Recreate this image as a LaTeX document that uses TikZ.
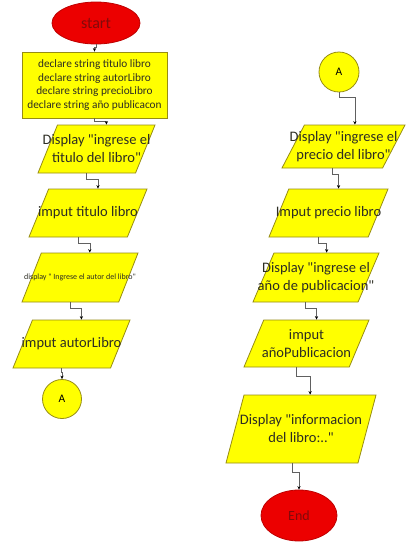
\documentclass[tikz,border=0pt]{standalone}
\usepackage{fontspec}
\setmainfont{Carlito}[Ligatures=TeXOff]
\usetikzlibrary{arrows.meta,shapes.geometric}
\definecolor{boxfill}{RGB}{255,255,0}
\definecolor{boxline}{RGB}{150,140,20}
\definecolor{termfill}{RGB}{236,0,0}
\definecolor{termline}{RGB}{190,0,0}
\definecolor{termtext}{RGB}{130,10,10}
\definecolor{flowtext}{RGB}{45,45,35}
\tikzset{
  term/.style={ellipse, draw=termline, fill=termfill, line width=0.8pt, text=termtext, inner sep=0pt},
  procbox/.style={rectangle, draw=boxline, fill=boxfill, line width=0.8pt, inner sep=0pt, align=center, text=flowtext},
  io/.style={trapezium, trapezium left angle=#1, trapezium right angle=\the\numexpr180-#1\relax,
    trapezium stretches=true, draw=boxline, fill=boxfill, line width=0.8pt, inner sep=1pt},
  io/.default=76,
  conn/.style={circle, draw=boxline, fill=boxfill, line width=0.8pt, inner sep=0pt, text=black,
    font=\fontsize{11.5}{13}\selectfont},
  txt/.style={align=center, text=flowtext, font=\fontsize{14.5}{18}\selectfont},
  flow/.style={-{Stealth[length=3.5pt,width=3.2pt,color=black]}, line width=0.6pt, gray!75!black},
}

\begin{document}
\begin{tikzpicture}[x=1pt, y=-1pt]
  \useasboundingbox (0,0) rectangle (407,542);
  % left column
  \node[term, minimum width=88pt, minimum height=42pt, font=\fontsize{16}{18}\selectfont] (start) at (96,23) {start};
  \node[procbox, minimum width=145pt, minimum height=66pt, font=\fontsize{11.3}{13.7}\selectfont] (decl) at (94.5,85)
    {declare string titulo libro\\declare string autorLibro\\declare string precioLibro\\declare string año publicacon};
  \node[io, minimum width=117pt, minimum height=48pt] (disp1) at (96.5,149) {};
  \node[txt] (disp1-t) at (disp1) {Display "ingrese el\\titulo del libro"};
  \node[io, minimum width=118pt, minimum height=48pt] (imp1) at (88,213) {};
  \node[txt] (imp1-t) at (imp1) {imput titulo libro};
  \node[io, minimum width=116pt, minimum height=49pt] (disp2) at (80,277.5) {};
  \node[txt, font=\fontsize{8}{10}\selectfont] (disp2-t) at (disp2) {display " Ingrese el autor del libro"};
  \node[io, minimum width=117pt, minimum height=48pt] (imp2) at (71.5,344) {};
  \node[txt] (imp2-t) at (imp2) {imput autorLibro};
  \node[conn, minimum size=39pt] (A1) at (62,399) {A};

  % right column
  \node[conn, minimum size=40pt] (A2) at (339,72) {A};
  \node[io=74, minimum width=123pt, minimum height=43pt] (dispP) at (343.5,146.5) {};
  \node[txt] (dispP-t) at (dispP) {Display "ingrese el\\precio del libro"};
  \node[io, minimum width=119pt, minimum height=48pt] (impP) at (328.5,213) {};
  \node[txt] (impP-t) at (impP) {Imput precio libro};
  \node[io, minimum width=126pt, minimum height=49pt] (dispA) at (316,277.5) {};
  \node[txt] (dispA-t) at (dispA) {Display "ingrese el\\año de publicacion"};
  \node[io=77, minimum width=125pt, minimum height=47pt] (impA) at (306.5,343.5) {};
  \node[txt] (impA-t) at (impA) {imput\\añoPublicacion};
  \node[io=81, minimum width=150pt, minimum height=68pt] (dispI) at (301,429) {};
  \node[txt] (dispI-t) at (dispI) {Display "informacion\\del libro:.."};
  \node[term, minimum width=76pt, minimum height=51pt, font=\fontsize{14}{16}\selectfont] (end) at (299,515.5) {End};

  % connectors
  \draw[flow] (start.south) -- ++(0,3) -| (decl.north);
  \draw[flow] (decl.south) -- ++(0,3) -| (disp1.top side);
  \draw[flow] (disp1.bottom side) -- ++(0,6) -| (imp1.top side);
  \draw[flow] (imp1.bottom side) -- ++(0,6) -| (disp2.top side);
  \draw[flow] (disp2.bottom side) -- ++(0,6) -| (imp2.top side);
  \draw[flow] (imp2.bottom side) -- ++(0,4) -| (A1.north);
  \draw[flow] (A2.south) -- ++(0,5) -| (dispP.top side);
  \draw[flow] (dispP.bottom side) -- ++(0,6) -| (impP.top side);
  \draw[flow] (impP.bottom side) -- ++(0,6) -| (dispA.top side);
  \draw[flow] (dispA.bottom side) -- ++(0,6) -| (impA.top side);
  \draw[flow] (impA.bottom side) -- ++(0,9) -| (dispI.top side);
  \draw[flow] (dispI.bottom side) -- ++(0,9) -| (end.north);
\end{tikzpicture}
\end{document}
